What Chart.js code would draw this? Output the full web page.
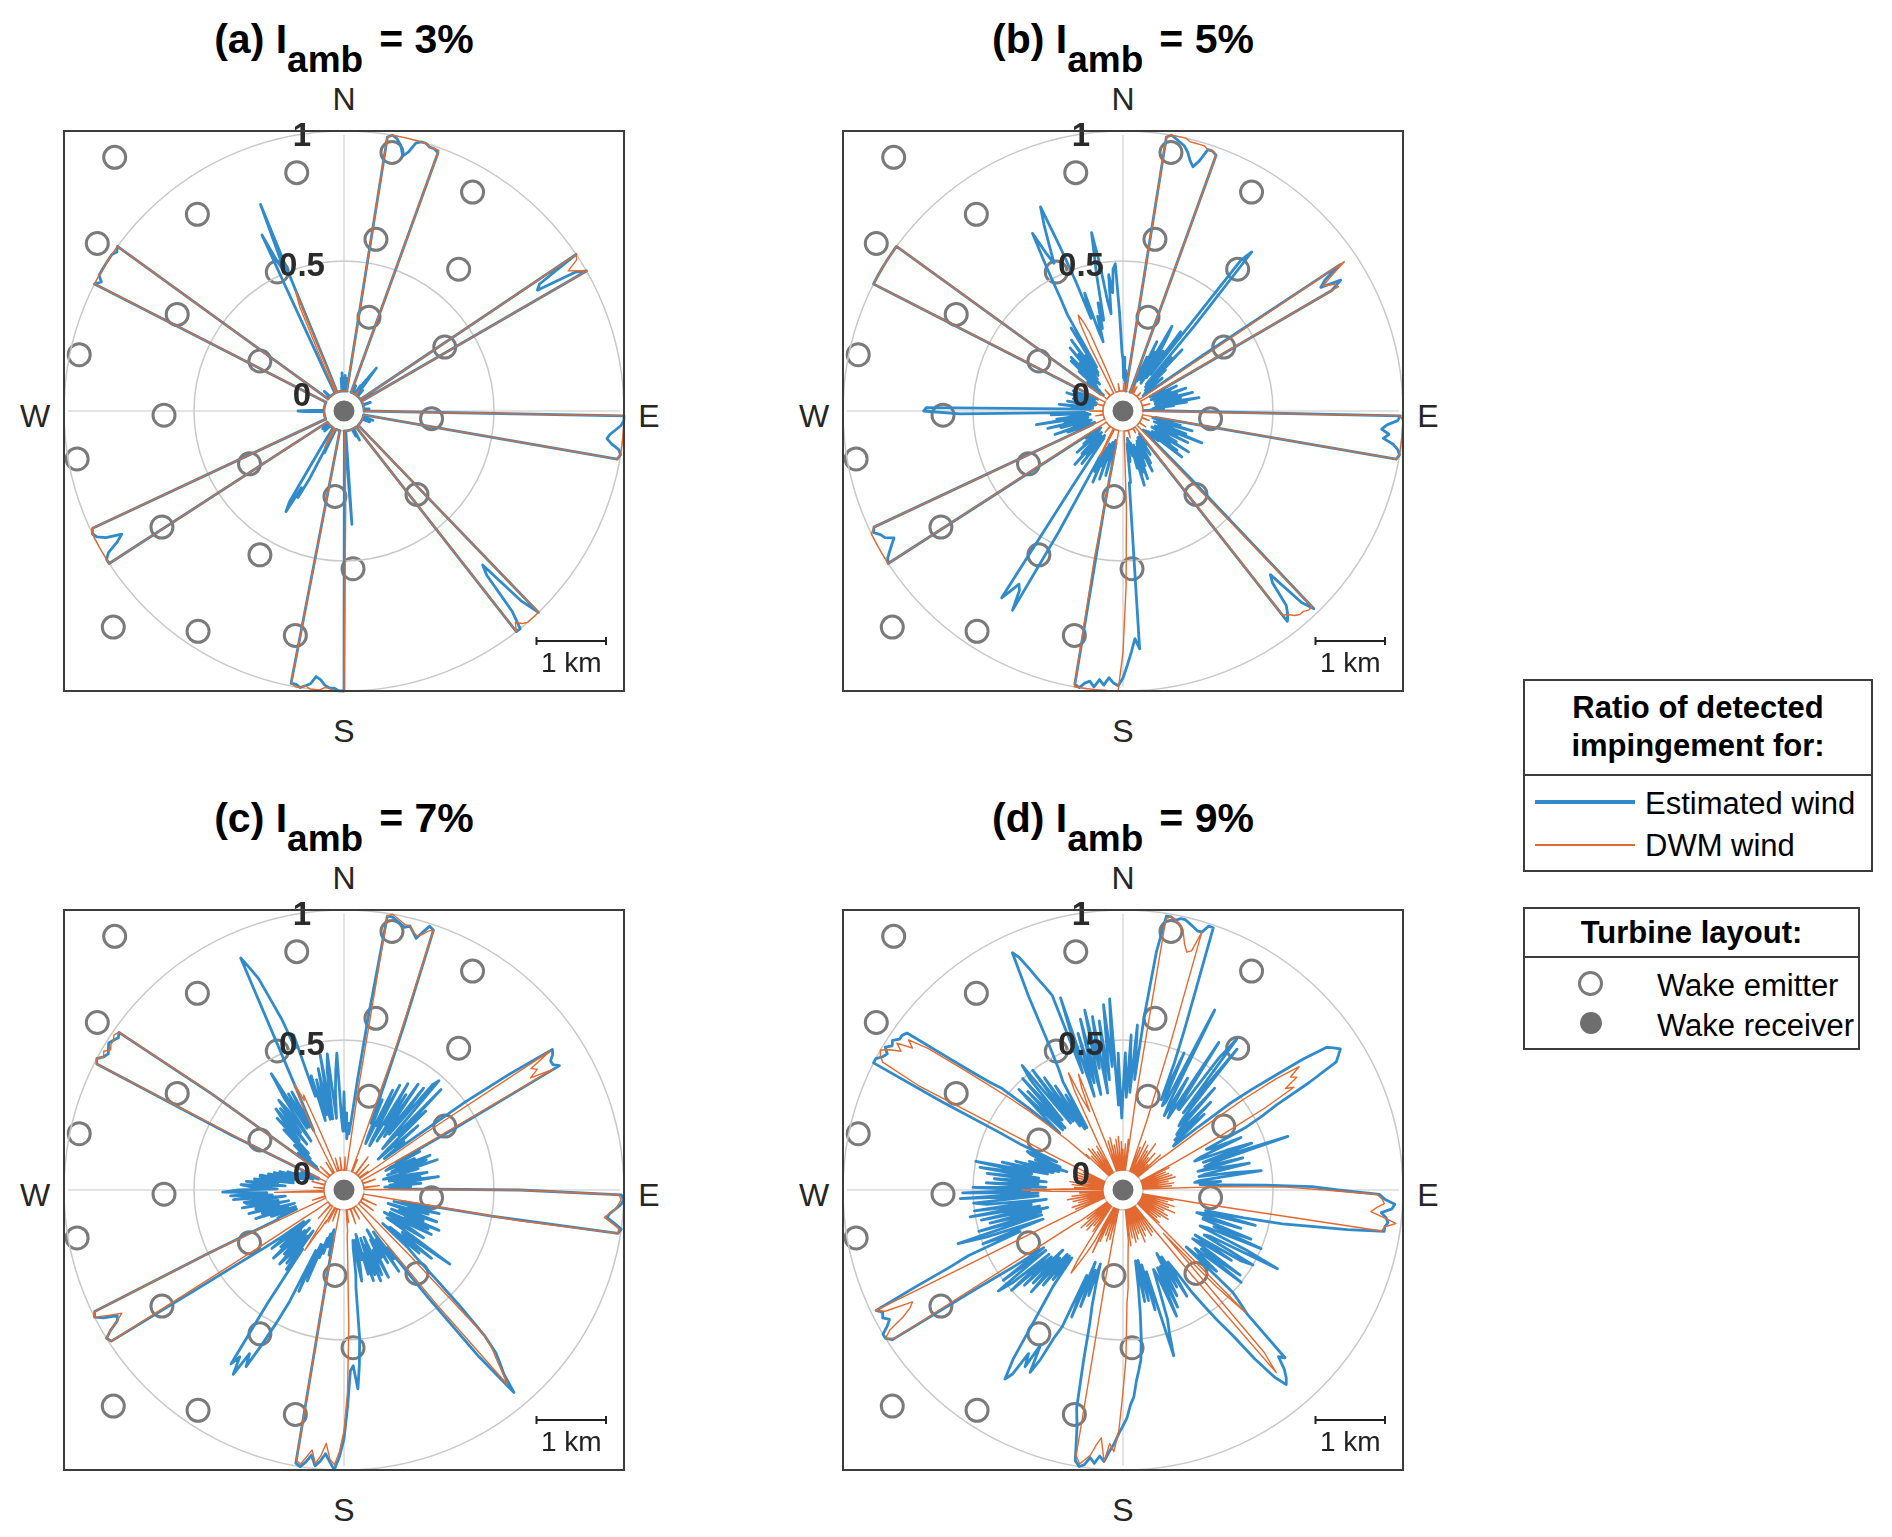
<!DOCTYPE html>
<html>
<head>
<meta charset="utf-8">
<title>Ratio of detected wake impingement</title>
<script src="https://cdn.jsdelivr.net/npm/chart.js@4.4.1/dist/chart.umd.min.js"></script>
<style>
  html, body { margin: 0; padding: 0; background: #fff; }
  body { position: relative; width: 1892px; height: 1537px; overflow: hidden;
         font-family: "Liberation Sans", Arial, sans-serif; color: #262626; }
  canvas { position: absolute; }
  .abs { position: absolute; }
  .frame { position: absolute; box-sizing: border-box; width: 562px; height: 562px; border: 2px solid #3c3c3c; }
  .title { position: absolute; width: 600px; text-align: center; font-weight: bold; font-size: 41px;
           line-height: 41px; color: #000; white-space: nowrap; }
  .title .sb { position: relative; top: 19px; font-size: 37px; margin-right: 16px; }
  .dir { position: absolute; width: 60px; text-align: center; font-size: 32px; line-height: 32px; }
  .box { position: absolute; box-sizing: border-box; border: 2px solid #3c3c3c; }
  .rule { position: absolute; height: 2px; background: #3c3c3c; }
  .lg { position: absolute; font-size: 31px; line-height: 31px; white-space: nowrap; color: #000; }
  .lg.b { font-weight: bold; text-align: center; }
</style>
</head>
<body>

<!-- legends -->
<div class="box" style="left:1523px;top:679px;width:350px;height:193px;"></div>
<div class="rule" style="left:1523px;top:774px;width:350px;"></div>
<div class="lg b" style="left:1523px;top:692px;width:350px;">Ratio of detected</div>
<div class="lg b" style="left:1523px;top:730px;width:350px;">impingement for:</div>
<div class="abs" style="left:1535px;top:800px;width:100px;height:3.5px;background:#2f8bcb;"></div>
<div class="lg" style="left:1645px;top:788px;">Estimated wind</div>
<div class="abs" style="left:1535px;top:844px;width:100px;height:1.6px;background:#e2692f;"></div>
<div class="lg" style="left:1645px;top:830px;">DWM wind</div>

<div class="box" style="left:1523px;top:907px;width:337px;height:143px;"></div>
<div class="rule" style="left:1523px;top:956px;width:337px;"></div>
<div class="lg b" style="left:1523px;top:917px;width:337px;">Turbine layout:</div>
<div class="abs" style="left:1578px;top:971px;width:19px;height:19px;border:3px solid #7a7a7a;border-radius:50%;"></div>
<div class="lg" style="left:1657px;top:970px;">Wake emitter</div>
<div class="abs" style="left:1580px;top:1012px;width:22px;height:22px;background:#6e6e6e;border-radius:50%;"></div>
<div class="lg" style="left:1657px;top:1010px;">Wake receiver</div>

<script>
// wind direction bins, 1 degree, N = 0, clockwise
const DIRECTIONS_DEG = Array.from({ length: 360 }, (_, i) => i);

const R_TICKS = [0, 0.5, 1];
const R_TICK_LABELS = ['0', '0.5', '1'];
const PANEL_LETTERS = ['(a)', '(b)', '(c)', '(d)'];
const I_AMB = ['3%', '5%', '7%', '9%'];

// ratio of detected impingement, estimated wind (blue) and DWM wind (orange)
const EST_A = [
  .02,0,.06,0,.05,0,0,0,0,.99,  1,.99,.97,.93,.95,.99,1,1,.99,.99,
  .98,0,0,0,0,.03,0,0,0,0,  0,0,0,.04,0,.06,.08,.13,.05,0,
  0,0,.03,0,0,0,0,0,0,0,  0,0,0,0,0,0,1,.82,.8,.96,
  1,0,0,0,0,0,0,0,0,0,  0,0,.03,0,0,0,0,0,0,0,
  0,0,0,0,0,.02,0,0,0,0,  0,1,1,.99,.97,.95,.94,.96,.99,1,
  .99,0,0,0,0,0,0,0,.04,0,  0,0,0,.03,0,0,0,0,0,0,
  0,0,0,0,0,0,0,0,0,0,  0,0,0,0,0,0,1,.92,.72,.76,
  .93,1,1,0,0,0,0,0,0,0,  0,0,.05,0,0,.03,0,0,0,0,
  0,0,0,0,0,0,0,0,0,0,  0,0,0,0,0,0,.36,.1,0,0,
  1,1,.99,.99,.98,.96,.95,.98,.99,1,  .99,.99,0,0,0,0,0,0,0,0,
  0,0,0,0,0,.1,.05,.22,.3,.26,  .37,.33,.1,0,0,0,0,0,0,0,
  0,0,0,0,.03,0,0,0,0,0,  .03,0,0,0,0,0,0,1,1,.98,
  .93,.9,.96,.99,1,.99,0,0,0,0,  0,0,0,0,0,0,0,0,0,0,
  0,0,0,0,0,0,0,0,0,.07,  .1,.05,0,0,0,0,0,0,0,0,
  0,0,0,0,0,0,0,0,0,0,  0,0,0,0,0,0,0,1,.98,1,
  1,1,1,1,1,.99,1,0,0,0,  0,0,0,0,0,.03,0,0,0,0,
  0,0,0,0,0,0,0,0,0,0,  0,0,0,0,.1,.67,.55,.5,.78,.1,
  0,0,0,0,0,0,0,0,0,0,  0,0,0,0,0,.05,0,.07,0,.03
];
const DWM_A = [
  0,0,0,0,0,0,0,0,0,.99,  1,1,1,1,1,1,1,1,.99,.99,
  .99,0,0,0,0,0,0,0,0,0,  0,0,0,0,0,0,.02,0,0,0,
  0,0,0,0,0,0,0,0,0,0,  0,0,0,0,0,0,1,.99,.94,.97,
  1,0,0,0,0,0,0,0,0,0,  0,0,0,0,0,0,0,0,0,0,
  0,0,0,0,0,0,0,0,0,0,  0,1,1,1,1,1,1,1,1,1,
  .99,0,0,0,0,0,0,0,0,0,  0,0,0,0,0,0,0,0,0,0,
  0,0,0,0,0,0,0,0,0,0,  0,0,0,0,0,0,1,1,1,1,
  .99,.97,1,0,0,0,0,0,0,0,  0,0,0,0,0,0,0,0,0,0,
  0,0,0,0,0,0,0,0,0,0,  0,0,0,0,0,0,0,0,0,.3,
  1,1,1,.99,.99,1,1,1,.99,1,  1,.99,0,0,0,0,0,0,0,0,
  0,0,0,0,0,0,0,.04,.08,.05,  0,0,0,0,0,0,0,0,0,0,
  0,0,0,0,0,0,0,0,0,0,  0,0,0,0,0,0,0,1,1,1,
  1,1,1,1,1,.99,0,0,0,0,  0,0,0,0,0,0,0,0,0,0,
  0,0,0,0,0,0,0,0,0,0,  0,0,0,0,0,0,0,0,0,0,
  0,0,0,0,0,0,0,0,0,0,  0,0,0,0,0,0,0,1,1,1,
  1,1,1,1,1,1,1,0,0,0,  0,0,0,0,0,0,0,0,0,0,
  0,0,0,0,0,0,0,0,0,0,  0,0,0,0,0,0,.12,.36,.42,0,
  0,0,0,0,0,0,0,0,0,0,  0,0,0,0,0,0,0,0,0,0
];
const EST_B = [
  .12,.05,.13,.04,.08,.03,.06,.02,0,.99,  1,.99,.98,.97,.95,.92,.9,.93,.98,.98,
  .97,0,.1,.03,.15,.05,.22,.08,.18,.06,  .3,.25,.18,.05,.2,.08,.3,.1,.66,.71,
  .35,.06,.2,.05,.25,.08,.15,.04,.1,.05,  .12,.03,.08,.02,.05,.3,.93,.85,.82,.9,
  .85,.1,.04,.1,.05,.15,.06,.12,.04,.08,  .18,.06,.14,.05,.1,.2,.07,.15,.05,.1,
  .22,.08,.17,.05,.12,.04,.08,.03,.05,0,  .1,.99,.98,.94,.92,.95,.93,.97,.99,1,
  .99,.05,.1,.04,.15,.06,.2,.08,.12,.05,  .18,.07,.25,.1,.15,.06,.2,.08,.12,.05,
  .16,.07,.22,.09,.14,.06,.18,.08,.21,.05,  .1,.04,.08,.03,.06,.3,.98,.93,.77,.8,
  .9,.93,.95,.1,.03,.05,.08,.04,.12,.05,  .1,.04,.15,.06,.18,.05,.12,.06,.15,.07,
  .2,.08,.17,.06,.22,.09,.15,.05,.1,.04,  .08,.03,.12,.05,.2,.2,.84,.8,.85,.9,
  .95,.98,.97,.95,.98,.96,.99,.97,.98,1,  .99,.3,.05,.1,.04,.18,.06,.12,.05,.2,
  .07,.15,.06,.22,.08,.18,.1,.12,.45,.8,  .72,.7,.74,.78,.25,.05,.12,.04,.18,.06,
  .14,.05,.2,.07,.15,.04,.1,.05,.16,.06,  .12,.04,.08,.03,.1,.05,.1,1,.99,.97,
  .95,.93,.96,.97,.99,.98,.05,.1,.04,.15,  .06,.2,.07,.12,.05,.17,.06,.22,.08,.15,
  .06,.26,.09,.18,.05,.12,.06,.2,.07,.55,  .69,.68,.15,.05,.12,.04,.17,.06,.1,.04,
  .14,.05,.08,.03,.12,.04,.09,.03,.15,.05,  .1,.04,.13,.05,.08,.03,.05,1,1,1,
  1,1,1,1,1,1,1,.03,.05,.02,  .1,.04,.15,.06,.2,.08,.21,.07,.17,.06,
  .24,.08,.2,.1,.26,.09,.18,.1,.3,.12,  .35,.42,.55,.69,.6,.55,.62,.7,.77,.6,
  .45,.3,.4,.25,.2,.3,.25,.35,.28,.45,  .62,.5,.35,.3,.45,.38,.47,.49,.3,.15
];
const DWM_B = [
  0,0,.03,0,0,0,0,0,0,.99,  1,1,1,1,.99,.99,.99,.99,.98,.98,
  .97,0,0,0,0,0,.03,0,0,0,  .03,0,0,0,0,0,0,0,0,0,
  0,0,0,0,.02,0,0,0,0,0,  0,0,0,0,0,0,.95,.88,.83,.87,
  .88,0,0,0,0,0,0,0,0,0,  0,0,0,0,0,.03,0,0,0,0,
  0,0,0,0,0,0,0,0,0,0,  0,.99,1,1,1,1,1,1,1,1,
  .99,0,0,0,0,0,0,0,0,0,  .03,0,0,0,0,0,0,0,0,0,
  0,0,0,0,0,.03,0,0,0,0,  0,0,0,0,0,0,.97,.97,.96,.96,
  .95,.93,.92,0,0,0,0,0,0,0,  .02,0,0,0,0,0,0,0,0,0,
  0,0,0,0,0,.03,0,0,0,0,  0,0,0,0,0,0,0,0,.3,.6,
  .85,1,1,1,1,1,1,1,1,1,  1,.5,0,0,0,0,0,0,0,0,
  0,0,0,0,0,0,.08,.12,.05,0,  0,0,0,0,0,0,0,0,0,0,
  .03,0,0,0,0,0,0,0,0,0,  0,0,0,0,0,0,0,1,1,1,
  1,1,1,1,1,.98,0,0,0,0,  0,0,0,0,0,0,0,0,0,0,
  .03,0,0,0,0,0,0,0,0,0,  .05,0,0,0,0,0,0,0,0,0,
  0,0,0,0,0,.03,0,0,0,0,  0,0,0,0,0,0,0,1,1,1,
  1,1,1,1,1,1,1,0,0,0,  0,0,0,0,0,0,0,0,0,0,
  .03,0,0,0,0,0,0,0,0,0,  0,0,0,.2,.3,.33,.3,.25,.1,0,
  0,0,0,0,0,0,0,0,0,0,  .03,0,0,0,0,0,0,0,0,0
];
const EST_C = [
  .3,.15,.22,.12,.18,.14,.2,.35,.6,.99,  .99,.98,.97,.96,.97,.95,.93,.96,.99,.98,
  .6,.35,.2,.3,.15,.12,.35,.2,.38,.15,  .12,.4,.22,.36,.15,.42,.25,.18,.42,.2,
  .45,.48,.2,.14,.46,.22,.36,.15,.1,.3,  .18,.22,.12,.2,.5,.7,.89,.88,.86,.86,
  .88,.4,.15,.25,.12,.1,.22,.14,.28,.12,  .26,.1,.3,.15,.22,.08,.12,.2,.25,.1,
  .22,.12,.29,.15,.1,.22,.08,.18,.1,.15,  .6,.99,1,.99,.97,.95,.94,.97,1,.99,
  .5,.15,.25,.12,.3,.18,.26,.1,.22,.3,  .15,.25,.12,.32,.18,.28,.12,.3,.2,.1,
  .22,.28,.15,.12,.25,.42,.2,.22,.35,.15,  .3,.12,.25,.3,.4,.55,.7,.78,.82,.86,
  .94,.75,.45,.2,.25,.12,.3,.15,.18,.25,  .1,.22,.14,.3,.18,.2,.28,.12,.3,.15,
  .27,.12,.29,.18,.26,.1,.2,.12,.22,.28,  .12,.15,.25,.3,.5,.6,.69,.6,.62,.75,
  .88,.95,1,.97,.94,.97,.99,.95,.98,1,  .99,.3,.12,.18,.08,.1,.15,.1,.18,.12,
  .2,.15,.3,.15,.35,.18,.4,.5,.6,.7,  .65,.75,.68,.72,.45,.2,.3,.12,.28,.15,
  .25,.3,.12,.26,.14,.22,.3,.15,.25,.1,  .2,.28,.12,.22,.3,.4,.6,.99,1,.97,
  .93,.92,.97,1,.99,.5,.2,.2,.12,.15,  .22,.12,.28,.15,.25,.12,.3,.18,.27,.14,
  .32,.18,.3,.31,.15,.35,.2,.36,.22,.39,  .33,.18,.28,.32,.15,.3,.18,.27,.12,.25,
  .25,.12,.22,.1,.2,.08,.18,.08,.15,.05,  .12,.05,.1,.03,.08,.03,.4,.99,1,.98,
  .97,.98,.99,.98,.97,.98,.55,.1,.05,.15,  .06,.12,.18,.1,.15,.25,.12,.3,.18,.28,
  .33,.15,.32,.2,.35,.3,.15,.35,.45,.2,  .35,.2,.35,.18,.25,.4,.9,.85,.8,.7,
  .62,.5,.55,.3,.38,.2,.36,.22,.4,.2,  .45,.2,.39,.45,.2,.3,.38,.45,.2,.15
];
const DWM_C = [
  0,0,.05,0,0,0,0,0,.3,.99,  1,.99,.98,.97,.97,.95,.94,.95,.97,.98,
  .5,.1,0,0,.05,0,0,0,0,0,  0,0,0,0,0,0,.08,0,0,0,
  0,0,0,0,.06,0,0,0,0,0,  0,0,.04,0,0,.3,.88,.78,.8,.76,
  .85,.2,0,0,0,0,0,0,0,0,  0,.05,0,0,0,0,0,0,0,0,
  0,0,0,.06,0,0,0,0,0,.04,  .6,.98,.99,.98,.97,.95,.93,.96,.99,.99,
  .6,.05,0,0,0,0,0,0,0,0,  0,0,0,0,0,.06,0,0,0,0,
  0,0,0,0,0,.06,0,0,0,0,  0,0,0,0,.1,.3,.7,.76,.8,.85,
  .9,.5,.15,0,0,0,0,0,0,0,  0,0,.05,0,0,0,0,0,0,0,
  0,.06,0,0,0,0,0,0,0,0,  0,0,.05,0,0,.08,.1,.2,.45,.7,
  .85,.93,.98,.96,.9,.95,.98,.93,.96,.99,  .98,.3,0,0,0,0,0,0,0,0,
  .05,0,0,0,0,0,.06,0,0,.07,  .06,.1,.12,.2,.1,0,0,0,0,0,
  0,0,.07,0,0,0,0,0,0,0,  0,0,0,0,.05,.1,.3,.99,1,.97,
  .93,.9,.95,1,.99,.5,0,0,0,0,  0,0,.05,0,0,0,0,0,0,0,
  0,0,0,0,0,0,.04,.08,.19,0,  0,0,0,0,0,.04,0,0,0,0,
  0,0,0,0,0,.05,0,0,0,0,  0,0,0,0,0,0,.3,.99,1,.98,
  .99,.97,.98,.98,.99,.98,.6,.05,0,0,  0,0,0,0,0,.05,0,0,0,0,
  0,0,0,0,0,0,0,.05,0,0,  0,0,.08,.2,.3,.37,.3,.32,.15,.05,
  0,0,0,0,0,.05,0,0,0,0,  0,0,0,.05,0,0,0,0,0,0
];
const EST_D = [
  .3,.45,.28,.52,.3,.56,.35,.6,.85,.99,  .99,.98,.99,.99,.98,.97,.96,.96,.99,.99,
  .74,.58,.45,.3,.5,.28,.3,.7,.3,.25,  .42,.28,.25,.6,.3,.3,.55,.65,.3,.62,
  .28,.25,.45,.25,.22,.4,.2,.35,.2,.18,  .3,.45,.55,.65,.78,.88,.9,.92,.9,.88,
  .75,.6,.53,.45,.28,.3,.42,.25,.22,.35,  .45,.25,.59,.28,.25,.4,.22,.3,.42,.25,
  .22,.35,.46,.22,.2,.3,.22,.3,.47,.65,  .75,.91,.93,.97,.96,.92,.94,.95,.94,.94,
  .8,.65,.55,.4,.25,.45,.25,.22,.4,.25,  .25,.45,.3,.5,.28,.25,.45,.59,.3,.28,
  .5,.45,.25,.42,.28,.25,.48,.3,.5,.28,  .31,.4,.25,.5,.55,.6,.82,.8,.85,.88,
  .9,.85,.75,.62,.55,.47,.4,.3,.25,.4,  .22,.35,.2,.38,.25,.42,.25,.45,.28,.25,
  .33,.45,.5,.59,.25,.4,.22,.36,.2,.36,  .2,.3,.4,.5,.58,.62,.66,.72,.75,.8,
  .83,.86,.9,.93,.97,.95,.98,.96,.99,1,  .98,.85,.78,.6,.45,.38,.3,.22,.35,.25,
  .4,.22,.45,.28,.5,.55,.65,.71,.6,.7,  .65,.75,.78,.7,.55,.45,.38,.25,.36,.25,
  .4,.25,.45,.28,.42,.25,.45,.3,.5,.3,  .48,.54,.3,.5,.3,.45,.6,.98,1,1,
  .97,.95,.97,.96,.98,.8,.65,.57,.35,.5,  .25,.48,.59,.25,.5,.25,.45,.22,.48,.25,
  .52,.28,.5,.22,.45,.5,.25,.55,.25,.54,  .28,.5,.22,.45,.25,.42,.22,.45,.25,.48,
  .28,.5,.22,.4,.2,.35,.18,.3,.15,.28,  .18,.3,.32,.2,.35,.45,.7,1,1,.98,
  .97,.99,.97,.98,.96,.96,.95,.78,.66,.58,  .53,.4,.25,.35,.48,.25,.45,.25,.5,.28,
  .48,.54,.25,.5,.25,.45,.22,.4,.2,.35,  .2,.4,.45,.55,.75,.93,.9,.85,.8,.76,
  .72,.4,.7,.3,.55,.35,.6,.3,.63,.4,  .6,.3,.58,.35,.64,.4,.66,.25,.45,.2
];
const DWM_D = [
  .08,0,0,.1,0,0,.12,0,.3,.98,  .99,.98,.97,.95,.9,.87,.88,.96,.5,.2,
  0,0,.1,0,0,.13,0,0,0,.12,  0,0,.1,0,0,.14,0,0,.08,0,
  0,.11,0,0,.06,0,0,.12,0,0,  .1,.15,.3,.5,.65,.75,.7,.72,.66,.69,
  .55,.35,.15,0,.12,0,0,.1,0,0,  .11,0,0,.12,0,0,.13,0,0,.1,
  0,0,.12,0,0,.11,0,0,.3,.55,  .7,.9,.92,.93,.9,.88,.93,.98,.94,.93,
  .2,0,.12,0,0,.1,0,0,.13,0,  0,.11,0,0,.14,0,0,.1,0,0,
  .12,0,0,.13,0,0,.1,0,0,.09,  0,0,.11,0,.1,.59,.44,.15,.3,.75,
  .84,.35,.1,0,0,.12,0,0,.13,0,  0,.1,0,0,.12,0,0,.14,0,0,
  .1,0,0,.12,0,0,.13,0,0,.11,  0,0,.14,0,.12,.15,.2,.3,.36,.57,
  .7,.85,.93,.9,.97,.88,.91,.95,.97,.99,  .96,.3,.08,0,0,.12,0,0,.13,0,
  0,.11,0,0,.14,0,.19,.1,0,.15,  .2,.25,.3,.24,.1,0,.12,0,0,.1,
  0,0,.13,0,0,.12,0,0,.14,0,  0,.1,0,0,.12,.15,.3,.97,1,.97,
  .9,.86,.84,.95,.98,.2,.06,0,.12,0,  0,.13,0,0,.1,0,0,.12,0,0,
  .14,0,0,.12,0,0,.09,0,.1,.2,  .31,.15,0,.11,0,0,.12,0,0,.13,
  0,0,.1,0,0,.12,0,0,.11,0,  0,.12,0,0,.09,0,.2,.8,.97,.99,
  1,.97,.93,.96,.9,.93,.85,.7,.58,.49,  .4,.3,.2,.1,.12,0,0,.1,0,0,
  .13,0,0,.12,0,0,.1,0,0,.12,  0,0,.12,.2,.35,.42,.3,.25,.35,.4,
  .1,0,0,.12,0,0,.13,0,0,.1,  0,0,.12,0,0,.13,0,0,.11,0
];

// turbine layout, km relative to the wake receiver (east, north)
const TURBINE_X_KM = [-3.30, -0.68, -2.11, -3.55, -0.96, -2.40, -3.81, -1.21, -2.59, 0.69, 1.85, 0.46, 1.65,
                      0.36, 1.45, 1.26, -3.84, -1.36, -0.13, -2.62, -1.21, 0.13, -3.32, -2.10, -0.70, 1.05];
const TURBINE_Y_KM = [3.65, 3.43, 2.83, 2.41, 2.00, 1.39, 0.81, 0.72, -0.06, 3.72, 3.15, 2.47, 2.04,
                      1.35, 0.92, -0.11, -0.69, -0.76, -1.23, -1.67, -2.07, -2.27, -3.11, -3.17, -3.23, -1.20];
const SCALE_BAR_X_KM = [2.77, 3.77];
const SCALE_BAR_Y_KM = -3.31;
const SCALE_BAR_LABEL_Y_KM = -3.76;

const EST = [EST_A, EST_B, EST_C, EST_D];
const DWM = [DWM_A, DWM_B, DWM_C, DWM_D];
[...EST, ...DWM].forEach((s, i) => {
  if (s.length !== 360) throw new Error('series ' + i + ' has ' + s.length + ' values');
});

// layout
const CENTER_X = [344, 1123, 344, 1123];
const CENTER_Y = [411, 411, 1190, 1190];
const PX_PER_KM = 70.5;
const HALF_PX = 280;
const HALF_KM = HALF_PX / PX_PER_KM;
const HOLE_MIN = -20 / 260;   // puts r = 0 on a 20 px ring around the receiver
const BLUE = '#2f8bcb';
const ORANGE = '#e2692f';
const FONT = '"Liberation Sans", Arial, sans-serif';

Chart.defaults.font.family = FONT;

function addDiv(cls, left, top, html) {
  const d = document.createElement('div');
  d.className = cls;
  d.style.left = left + 'px';
  d.style.top = top + 'px';
  d.innerHTML = html;
  document.body.appendChild(d);
  return d;
}

function addCanvas(left, top) {
  const c = document.createElement('canvas');
  c.width = 600;
  c.height = 600;
  c.style.left = left + 'px';
  c.style.top = top + 'px';
  document.body.appendChild(c);
  return c;
}

const radialTickLabels = {
  id: 'radialTickLabels',
  afterDatasetsDraw(chart) {
    const s = chart.scales.r;
    const ctx = chart.ctx;
    ctx.save();
    ctx.font = 'bold 33px ' + FONT;
    ctx.fillStyle = '#2b2b2b';
    ctx.textAlign = 'center';
    ctx.textBaseline = 'alphabetic';
    R_TICKS.forEach((v, i) => {
      const d = s.getDistanceFromCenterForValue(v);
      ctx.fillText(R_TICK_LABELS[i], s.xCenter - 42, s.yCenter - d + 15);
    });
    ctx.restore();
  }
};

const scaleBarLabel = {
  id: 'scaleBarLabel',
  afterDatasetsDraw(chart) {
    const { x, y } = chart.scales;
    const ctx = chart.ctx;
    ctx.save();
    ctx.font = '28px ' + FONT;
    ctx.fillStyle = '#222';
    ctx.textAlign = 'center';
    ctx.fillText('1 km', x.getPixelForValue((SCALE_BAR_X_KM[0] + SCALE_BAR_X_KM[1]) / 2),
                 y.getPixelForValue(SCALE_BAR_LABEL_Y_KM));
    ctx.restore();
  }
};

PANEL_LETTERS.forEach((letter, p) => {
  const cx = CENTER_X[p], cy = CENTER_Y[p];

  addDiv('title', cx - 300, cy - 392, letter + ' I<span class="sb">amb</span>= ' + I_AMB[p]);
  addDiv('dir', cx - 30, cy - 328, 'N');
  addDiv('dir', cx - 30, cy + 304, 'S');
  addDiv('dir', cx + 275, cy - 11, 'E');
  addDiv('dir', cx - 339, cy - 11, 'W');

  // turbine layout, compass lines and scale bar (km axes)
  const layout = addCanvas(cx - 300, cy - 300);
  new Chart(layout, {
    type: 'scatter',
    data: {
      datasets: [
        { data: [{ x: 0, y: -HALF_KM }, { x: 0, y: HALF_KM }], showLine: true,
          borderColor: '#dadada', borderWidth: 1.5, pointRadius: 0, order: 5 },
        { data: [{ x: -HALF_KM, y: 0 }, { x: HALF_KM, y: 0 }], showLine: true,
          borderColor: '#dadada', borderWidth: 1.5, pointRadius: 0, order: 4 },
        { data: TURBINE_X_KM.map((x, i) => ({ x, y: TURBINE_Y_KM[i] })),
          pointRadius: 11, pointBorderWidth: 3, pointBorderColor: '#7a7a7a',
          pointBackgroundColor: 'rgba(0,0,0,0)', clip: false, order: 3 },
        { data: [{ x: 0, y: 0 }], pointRadius: 15, pointBorderWidth: 9,
          pointBackgroundColor: '#6e6e6e', pointBorderColor: '#ffffff', order: 2 },
        { data: SCALE_BAR_X_KM.map(x => ({ x, y: SCALE_BAR_Y_KM })), showLine: true,
          borderColor: '#222', borderWidth: 2, pointStyle: 'line', pointRotation: 90,
          pointRadius: 4, pointBorderWidth: 2, pointBorderColor: '#222', order: 1 }
      ]
    },
    options: {
      responsive: false,
      animation: false,
      events: [],
      layout: { padding: 20 },
      plugins: { legend: { display: false }, tooltip: { enabled: false } },
      scales: {
        x: { type: 'linear', min: -HALF_KM, max: HALF_KM, display: false },
        y: { type: 'linear', min: -HALF_KM, max: HALF_KM, display: false }
      }
    },
    plugins: [scaleBarLabel]
  });

  // impingement ratio rose
  const rose = addCanvas(cx - 300, cy - 300);
  new Chart(rose, {
    type: 'radar',
    data: {
      labels: DIRECTIONS_DEG,
      datasets: [
        { label: 'Estimated wind', data: EST[p], borderColor: BLUE, borderWidth: 2.8,
          pointRadius: 0, fill: false, order: 2 },
        { label: 'DWM wind', data: DWM[p], borderColor: ORANGE, borderWidth: 1.4,
          pointRadius: 0, fill: false, order: 1 }
      ]
    },
    options: {
      responsive: false,
      animation: false,
      events: [],
      layout: { padding: 20 },
      elements: { line: { tension: 0, borderJoinStyle: 'round' } },
      plugins: { legend: { display: false }, tooltip: { enabled: false } },
      scales: {
        r: {
          min: HOLE_MIN,
          max: 1,
          startAngle: 0,
          angleLines: { display: false },
          grid: { circular: true, color: '#c8c8c8', lineWidth: 1.5 },
          pointLabels: { display: false },
          ticks: { display: false },
          afterBuildTicks: s => { s.ticks = R_TICKS.map(v => ({ value: v })); }
        }
      }
    },
    plugins: [radialTickLabels]
  });

  addDiv('frame', cx - 281, cy - 281, '');
});
</script>
</body>
</html>
